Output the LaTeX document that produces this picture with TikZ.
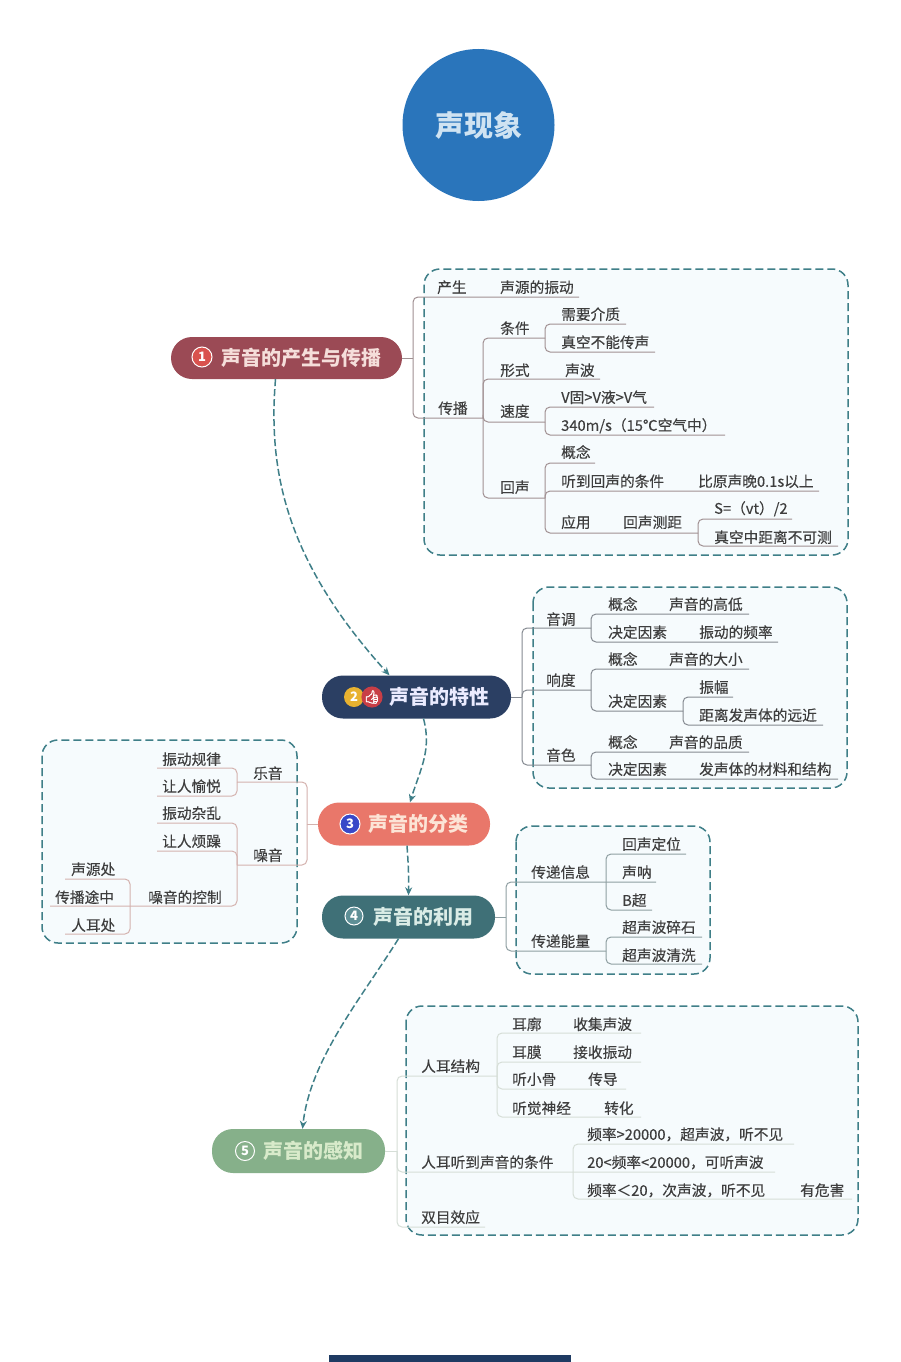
\documentclass[tikz,border=0pt]{standalone}
\usepackage{fontspec}
\setmainfont{Noto Sans CJK SC}
\newfontfamily\emojifont[FakeBold=2.5]{Noto Emoji}
\newfontfamily\itemfont[FakeBold=0.25]{Noto Sans CJK SC}
\usetikzlibrary{calc,arrows.meta}
\definecolor{boxfill}{HTML}{F6FBFD}
\definecolor{boxline}{HTML}{3F7F88}
\definecolor{txt}{HTML}{3E3E3E}
\definecolor{ca}{HTML}{A09092}
\definecolor{cb}{HTML}{858A91}
\definecolor{cc}{HTML}{D4B2AE}
\definecolor{cd}{HTML}{8F9FA2}
\definecolor{ce}{HTML}{D6DED7}
\tikzset{
  zone/.style={draw=boxline,fill=boxfill,line width=1.5pt,dash pattern=on 8pt off 4pt,rounded corners=16pt},
  hub/.style={inner sep=0,rounded corners=21pt},
  hubtext/.style={anchor=base west,inner sep=0,yshift=-7.6pt,font=\fontsize{20}{20}\selectfont\bfseries},
  tx/.style={anchor=base west,inner sep=0,yshift=-5.8pt,text=txt,font=\fontsize{14.7}{15}\itemfont},
  br/.style={line width=1pt,rounded corners=5pt},
  link/.style={draw=boxline,line width=1.5pt,dash pattern=on 7pt off 3pt,-{Stealth[length=8pt,width=7pt,fill=boxline!60!blue]}},
  badge/.style={circle,draw=white,line width=1pt,minimum size=20pt,inner sep=0,text=white,font=\fontsize{13}{13}\selectfont\bfseries},
}
% #1 name, #2 line start (junction) x, #3 line end x, #4 line y, #5 text x, #6 text y, #7 text
\newcommand{\itm}[7]{%
  \coordinate (#1-l) at (#2,#4); \coordinate (#1-r) at (#3,#4);
  \node[tx] (#1) at (#5,#6) {#7};}
\newcommand{\txt}[4]{\node[tx] (#1) at (#2,#3) {#4};}
% #1 colour, #2 parent, #3 child
\newcommand{\cn}[3]{\draw[br,draw=#1] (#3-l |- #2-r) -- (#3-l) -- (#3-r);}
\begin{document}
\begin{tikzpicture}[x=1pt,y=-1pt]
\useasboundingbox (0,0) rectangle (900,1362);
\fill[white] (0,0) rectangle (900,1362);

% zones
\draw[zone] (424,269) rectangle (848,555);
\draw[zone] (533,587) rectangle (847,788);
\draw[zone] (42,740) rectangle (297,943);
\draw[zone] (516,826) rectangle (710,974);
\draw[zone] (406,1006) rectangle (858,1235);

% title
\node[circle,fill={rgb,255:red,42;green,117;blue,187},minimum size=152pt,inner sep=0,text={rgb,255:red,207;green,227;blue,242},font=\fontsize{29}{29}\selectfont\bfseries] (title) at (478.5,125) {声现象};

% bottom bar
\fill[fill={rgb,255:red,31;green,59;blue,99}] (329,1355) rectangle (571,1362);

% hubs
\node[hub,fill={rgb,255:red,155;green,74;blue,85},minimum width=231pt,minimum height=42pt] (h1) at (286.5,358) {};
\node[hub,fill={rgb,255:red,43;green,63;blue,99},minimum width=189pt,minimum height=43pt] (h2) at (416.5,697) {};
\node[hub,fill={rgb,255:red,233;green,119;blue,106},minimum width=172pt,minimum height=43pt] (h3) at (404,824) {};
\node[hub,fill={rgb,255:red,63;green,112;blue,119},minimum width=173pt,minimum height=43pt] (h4) at (408.5,917) {};
\node[hub,fill={rgb,255:red,134;green,176;blue,138},minimum width=173pt,minimum height=44pt] (h5) at (298.5,1151) {};
\coordinate (h1-r) at (h1.east); \coordinate (h2-r) at (h2.east);
\coordinate (h3-r) at (h3.west); \coordinate (h4-r) at (h4.east);
\coordinate (h5-r) at (h5.east);

\node[hubtext,text={rgb,255:red,245;green,222;blue,218}] (h1t) at (221,358) {声音的产生与传播};
\node[hubtext,text=white!92!blue] (h2t) at (389,697) {声音的特性};
\node[hubtext,text={rgb,255:red,252;green,228;blue,214}] (h3t) at (368,824) {声音的分类};
\node[hubtext,text={rgb,255:red,218;green,236;blue,230}] (h4t) at (373,917) {声音的利用};
\node[hubtext,text={rgb,255:red,216;green,234;blue,202}] (h5t) at (263,1151) {声音的感知};

\node[badge,fill={rgb,255:red,217;green,82;blue,78}] (b1) at (202,357) {1};
\node[badge,draw=none,fill={rgb,255:red,232;green,178;blue,48}] (b2) at (354,697) {2};
\node[badge,draw=none,fill={rgb,255:red,200;green,62;blue,70},font=\fontsize{13}{13}\emojifont] (b2b) at (372,697) {👍};
\node[badge,fill={rgb,255:red,56;green,72;blue,200}] (b3) at (350,824) {3};
\node[badge,fill={rgb,255:red,94;green,143;blue,150},minimum size=18pt] (b4) at (354,916) {4};
\node[badge,fill={rgb,255:red,134;green,176;blue,138},minimum size=19pt] (b5) at (245,1151) {5};

% links between hubs
\draw[link] ($(h1.south)+(-11,0)$) .. controls (268,470) and (285,560) .. ($(h2.north)+(-27,0)$);
\draw[link] ($(h2.south)+(7,0)$) .. controls (432,750) and (420,770) .. ($(h3.north)+(6,0)$);
\draw[link] ($(h3.south)+(3,0)$) .. controls (408,860) and (409,875) .. ($(h4.north)+(0,0)$);
\draw[link] ($(h4.south)+(-10,0)$) .. controls (360,1000) and (310,1060) .. ($(h5.north)+(4,0)$);

% ---------- section 1
\itm{a1}{413}{579}{297}{437}{287}{产生}
\txt{a1b}{500}{287}{声源的振动}
\itm{a2}{413}{483}{418}{438}{408}{传播}
\itm{a3}{483}{545}{338}{500}{328}{条件}
\itm{a31}{545}{626}{324}{561}{314}{需要介质}
\itm{a32}{545}{655}{352}{561}{342}{真空不能传声}
\itm{a4}{483}{600}{379}{500}{370}{形式}
\txt{a4b}{565}{370}{声波}
\itm{a5}{483}{545}{422}{500}{411}{速度}
\itm{a51}{545}{654}{407}{561}{397}{V固>V液>V气}
\itm{a52}{545}{725}{435}{561}{425}{340m/s（15℃空气中）}
\itm{a6}{483}{545}{498}{500}{487}{回声}
\itm{a61}{545}{595}{463}{561}{452}{概念}
\itm{a62}{545}{819}{491}{561}{481}{听到回声的条件}
\txt{a62b}{698}{481}{比原声晚0.1s以上}
\itm{a63}{545}{698}{533}{561}{522}{应用}
\txt{a63b}{623}{522}{回声测距}
\itm{a631}{698}{792}{519}{714}{508}{S=（vt）/2}
\itm{a632}{698}{838}{546}{714}{537}{真空中距离不可测}
\draw[br,draw=ca] (h1-r) -- (a1-l |- h1-r);
\cn{ca}{h1}{a1}\cn{ca}{h1}{a2}
\cn{ca}{a2}{a3}\cn{ca}{a2}{a4}\cn{ca}{a2}{a5}\cn{ca}{a2}{a6}
\cn{ca}{a3}{a31}\cn{ca}{a3}{a32}
\cn{ca}{a5}{a51}\cn{ca}{a5}{a52}
\cn{ca}{a6}{a61}\cn{ca}{a6}{a62}\cn{ca}{a6}{a63}
\cn{ca}{a63}{a631}\cn{ca}{a63}{a632}

% ---------- section 2
\itm{c1}{522}{591}{628}{546}{619}{音调}
\itm{c11}{591}{749}{614}{608}{604}{概念}
\txt{c11b}{669}{604}{声音的高低}
\itm{c12}{591}{778}{642}{608}{632}{决定因素}
\txt{c12b}{699}{632}{振动的频率}
\itm{c2}{522}{591}{690}{546}{680}{响度}
\itm{c21}{591}{749}{669}{608}{659}{概念}
\txt{c21b}{669}{659}{声音的大小}
\itm{c22}{591}{683}{711}{608}{701}{决定因素}
\itm{c221}{683}{733}{697}{699}{687}{振幅}
\itm{c222}{683}{823}{725}{699}{715}{距离发声体的远近}
\itm{c3}{522}{591}{765}{546}{755}{音色}
\itm{c31}{591}{749}{752}{608}{742}{概念}
\txt{c31b}{669}{742}{声音的品质}
\itm{c32}{591}{838}{779}{608}{769}{决定因素}
\txt{c32b}{699}{769}{发声体的材料和结构}
\draw[br,draw=cb] (h2-r) -- (c1-l |- h2-r);
\cn{cb}{h2}{c1}\cn{cb}{h2}{c2}\cn{cb}{h2}{c3}
\cn{cb}{c1}{c11}\cn{cb}{c1}{c12}
\cn{cb}{c2}{c21}\cn{cb}{c2}{c22}
\cn{cb}{c22}{c221}\cn{cb}{c22}{c222}
\cn{cb}{c3}{c31}\cn{cb}{c3}{c32}

% ---------- section 3
\itm{d1}{307}{237}{782}{253}{773}{乐音}
\itm{d11}{237}{157}{768}{162}{759}{振动规律}
\itm{d12}{237}{157}{796}{162}{786}{让人愉悦}
\itm{d2}{307}{237}{865}{253}{855}{噪音}
\itm{d21}{237}{157}{823}{162}{813}{振动杂乱}
\itm{d22}{237}{157}{851}{162}{841}{让人烦躁}
\itm{d23}{237}{50}{906}{148}{897}{噪音的控制}
\itm{d231}{130}{65}{879}{71}{869}{声源处}
\txt{d232}{55}{897}{传播途中}
\itm{d233}{130}{65}{934}{71}{925}{人耳处}
\draw[br,draw=cc] (h3-r) -- (d1-l |- h3-r);
\cn{cc}{h3}{d1}\cn{cc}{h3}{d2}
\cn{cc}{d1}{d11}\cn{cc}{d1}{d12}
\cn{cc}{d2}{d21}\cn{cc}{d2}{d22}\cn{cc}{d2}{d23}
\cn{cc}{d23}{d231}\cn{cc}{d23}{d233}

% ---------- section 4
\itm{f1}{506}{656}{882}{531}{872}{传递信息}
\itm{f11}{606}{686}{854}{622}{844}{回声定位}
\txt{f12}{622}{872}{声呐}
\itm{f13}{606}{652}{910}{622}{900}{B超}
\itm{f2}{506}{606}{951}{531}{941}{传递能量}
\itm{f21}{606}{702}{937}{622}{927}{超声波碎石}
\itm{f22}{606}{702}{964}{622}{955}{超声波清洗}
\draw[br,draw=cd] (h4-r) -- (f1-l |- h4-r);
\cn{cd}{h4}{f1}\cn{cd}{h4}{f2}
\cn{cd}{f1}{f11}\cn{cd}{f1}{f13}
\cn{cd}{f2}{f21}\cn{cd}{f2}{f22}

% ---------- section 5
\itm{g1}{397}{497}{1076}{421}{1066}{人耳结构}
\itm{g11}{497}{641}{1033}{512}{1024}{耳廓}
\txt{g11b}{573}{1024}{收集声波}
\itm{g12}{497}{641}{1062}{512}{1052}{耳膜}
\txt{g12b}{573}{1052}{接收振动}
\itm{g13}{497}{626}{1089}{512}{1079}{听小骨}
\txt{g13b}{588}{1079}{传导}
\itm{g14}{497}{641}{1117}{512}{1108}{听觉神经}
\txt{g14b}{604}{1108}{转化}
\itm{g2}{397}{775}{1172}{421}{1162}{人耳听到声音的条件}
\itm{g21}{573}{794}{1144}{587}{1134}{频率>20000，超声波，听不见}
\txt{g22}{587}{1162}{20<频率<20000，可听声波}
\itm{g23}{573}{852}{1199}{587}{1190}{频率＜20，次声波，听不见}
\txt{g23b}{800}{1190}{有危害}
\itm{g3}{397}{485}{1227}{421}{1217}{双目效应}
\draw[br,draw=ce] (h5-r) -- (g1-l |- h5-r);
\cn{ce}{h5}{g1}\cn{ce}{h5}{g2}\cn{ce}{h5}{g3}
\cn{ce}{g1}{g11}\cn{ce}{g1}{g12}\cn{ce}{g1}{g13}\cn{ce}{g1}{g14}
\cn{ce}{g2}{g21}\cn{ce}{g2}{g23}
\end{tikzpicture}
\end{document}
